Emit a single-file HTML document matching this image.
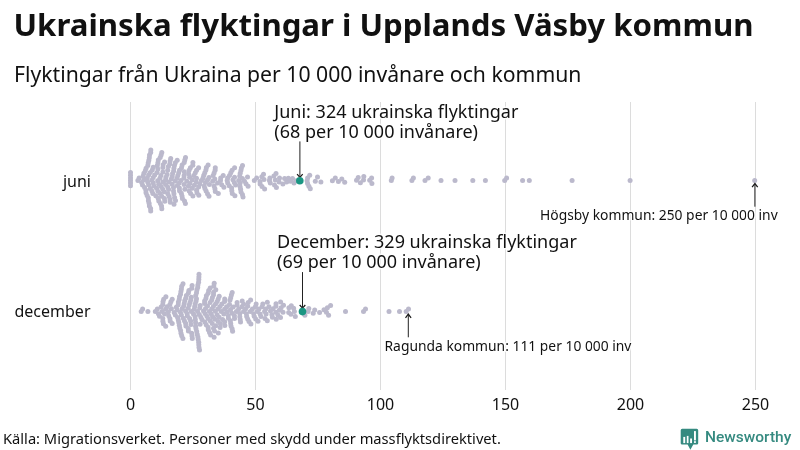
<!DOCTYPE html>
<html><head><meta charset="utf-8">
<style>
html,body{margin:0;padding:0;background:#fff;width:800px;height:450px;overflow:hidden}
svg{display:block;will-change:transform}
text{font-family:"Noto Sans","Liberation Sans",sans-serif;fill:#111}
.grid{stroke:#dcdcdc;stroke-width:1}
.tick{font-size:16px;text-anchor:middle}
.lab{font-size:16px;text-anchor:end}
.ann{font-size:18px}
.ann,.small{stroke:rgba(255,255,255,0.85);stroke-width:3px;paint-order:stroke fill;stroke-linejoin:round}
.small{font-size:13.85px}
.foot{font-size:14.667px}
.arr{stroke:#222;stroke-width:1;fill:none}
.ah{stroke:#1a1a1a;stroke-width:1.25;fill:none}
.d{fill:#bbb9cc}
</style></head><body>
<svg width="800" height="450" viewBox="0 0 800 450">
<text x="13.5" y="36.3" style="font-size:31.2px;font-weight:700" textLength="739.94">Ukrainska flyktingar i Upplands Väsby kommun</text>
<text x="14" y="81.5" style="font-size:21.2px" textLength="567.41">Flyktingar från Ukraina per 10 000 invånare och kommun</text>
<g class="grid">
<line x1="130.5" y1="102" x2="130.5" y2="390"/>
<line x1="255.5" y1="102" x2="255.5" y2="390"/>
<line x1="380.5" y1="102" x2="380.5" y2="390"/>
<line x1="505.5" y1="102" x2="505.5" y2="390"/>
<line x1="630.5" y1="102" x2="630.5" y2="390"/>
<line x1="755.5" y1="102" x2="755.5" y2="390"/>
</g>
<g class="tick">
<text x="130.5" y="409.6">0</text>
<text x="255.5" y="409.6">50</text>
<text x="380.5" y="409.6">100</text>
<text x="505.5" y="409.6">150</text>
<text x="630.5" y="409.6">200</text>
<text x="755.5" y="409.6">250</text>
</g>
<text class="lab" x="91" y="186.8" textLength="28.05">juni</text>
<text class="lab" x="90.5" y="316.9" textLength="76.02">december</text>
<g class="d">
<circle cx="130.5" cy="180.5" r="2.5"/>
<circle cx="130.5" cy="177.9" r="2.5"/>
<circle cx="130.5" cy="183.1" r="2.5"/>
<circle cx="130.5" cy="175.2" r="2.5"/>
<circle cx="130.5" cy="185.8" r="2.5"/>
<circle cx="130.5" cy="172.6" r="2.5"/>
<circle cx="137.9" cy="180.5" r="2.5"/>
<circle cx="139.1" cy="177.9" r="2.5"/>
<circle cx="141.7" cy="182.5" r="2.5"/>
<circle cx="142.5" cy="185.1" r="2.5"/>
<circle cx="143.1" cy="176.0" r="2.5"/>
<circle cx="143.8" cy="180.1" r="2.5"/>
<circle cx="143.9" cy="173.3" r="2.5"/>
<circle cx="144.6" cy="187.6" r="2.5"/>
<circle cx="145.3" cy="170.8" r="2.5"/>
<circle cx="145.9" cy="190.2" r="2.5"/>
<circle cx="146.0" cy="192.8" r="2.5"/>
<circle cx="146.1" cy="168.2" r="2.5"/>
<circle cx="147.1" cy="195.4" r="2.5"/>
<circle cx="147.3" cy="177.9" r="2.5"/>
<circle cx="147.7" cy="182.1" r="2.5"/>
<circle cx="147.8" cy="165.6" r="2.5"/>
<circle cx="148.2" cy="163.0" r="2.5"/>
<circle cx="148.3" cy="198.0" r="2.5"/>
<circle cx="148.4" cy="200.7" r="2.5"/>
<circle cx="148.6" cy="184.7" r="2.5"/>
<circle cx="148.6" cy="175.0" r="2.5"/>
<circle cx="148.8" cy="160.4" r="2.5"/>
<circle cx="149.1" cy="203.3" r="2.5"/>
<circle cx="149.3" cy="157.7" r="2.5"/>
<circle cx="149.4" cy="205.9" r="2.5"/>
<circle cx="149.5" cy="155.1" r="2.5"/>
<circle cx="150.3" cy="172.4" r="2.5"/>
<circle cx="150.3" cy="188.4" r="2.5"/>
<circle cx="150.6" cy="208.5" r="2.5"/>
<circle cx="150.7" cy="152.5" r="2.5"/>
<circle cx="150.7" cy="211.1" r="2.5"/>
<circle cx="150.8" cy="149.9" r="2.5"/>
<circle cx="151.8" cy="180.2" r="2.5"/>
<circle cx="151.9" cy="190.9" r="2.5"/>
<circle cx="152.3" cy="169.9" r="2.5"/>
<circle cx="152.8" cy="193.6" r="2.5"/>
<circle cx="153.2" cy="177.6" r="2.5"/>
<circle cx="153.2" cy="167.3" r="2.5"/>
<circle cx="153.3" cy="183.0" r="2.5"/>
<circle cx="153.8" cy="186.0" r="2.5"/>
<circle cx="154.7" cy="175.0" r="2.5"/>
<circle cx="155.8" cy="195.8" r="2.5"/>
<circle cx="156.6" cy="188.3" r="2.5"/>
<circle cx="157.1" cy="172.6" r="2.5"/>
<circle cx="157.3" cy="165.4" r="2.5"/>
<circle cx="157.7" cy="180.7" r="2.5"/>
<circle cx="157.9" cy="191.2" r="2.5"/>
<circle cx="157.9" cy="162.8" r="2.5"/>
<circle cx="157.9" cy="169.0" r="2.5"/>
<circle cx="158.2" cy="198.3" r="2.5"/>
<circle cx="158.3" cy="160.1" r="2.5"/>
<circle cx="158.7" cy="184.2" r="2.5"/>
<circle cx="158.8" cy="200.9" r="2.5"/>
<circle cx="159.9" cy="178.2" r="2.5"/>
<circle cx="160.2" cy="193.6" r="2.5"/>
<circle cx="160.2" cy="157.6" r="2.5"/>
<circle cx="160.4" cy="203.4" r="2.5"/>
<circle cx="160.9" cy="175.6" r="2.5"/>
<circle cx="161.1" cy="155.0" r="2.5"/>
<circle cx="161.1" cy="186.6" r="2.5"/>
<circle cx="161.5" cy="206.0" r="2.5"/>
<circle cx="161.8" cy="152.4" r="2.5"/>
<circle cx="161.8" cy="208.7" r="2.5"/>
<circle cx="161.8" cy="196.2" r="2.5"/>
<circle cx="162.6" cy="189.1" r="2.5"/>
<circle cx="162.8" cy="182.1" r="2.5"/>
<circle cx="162.9" cy="171.9" r="2.5"/>
<circle cx="162.9" cy="167.6" r="2.5"/>
<circle cx="163.1" cy="164.7" r="2.5"/>
<circle cx="164.3" cy="191.7" r="2.5"/>
<circle cx="164.4" cy="198.5" r="2.5"/>
<circle cx="164.6" cy="162.1" r="2.5"/>
<circle cx="164.8" cy="201.2" r="2.5"/>
<circle cx="165.6" cy="179.8" r="2.5"/>
<circle cx="165.6" cy="184.4" r="2.5"/>
<circle cx="165.9" cy="177.2" r="2.5"/>
<circle cx="167.1" cy="174.6" r="2.5"/>
<circle cx="167.7" cy="186.9" r="2.5"/>
<circle cx="167.7" cy="170.3" r="2.5"/>
<circle cx="167.8" cy="193.8" r="2.5"/>
<circle cx="168.4" cy="166.5" r="2.5"/>
<circle cx="168.6" cy="189.5" r="2.5"/>
<circle cx="169.0" cy="182.0" r="2.5"/>
<circle cx="169.1" cy="196.4" r="2.5"/>
<circle cx="169.8" cy="163.9" r="2.5"/>
<circle cx="170.0" cy="199.5" r="2.5"/>
<circle cx="170.1" cy="161.1" r="2.5"/>
<circle cx="170.3" cy="202.3" r="2.5"/>
<circle cx="170.7" cy="158.5" r="2.5"/>
<circle cx="171.3" cy="179.0" r="2.5"/>
<circle cx="172.2" cy="184.2" r="2.5"/>
<circle cx="172.2" cy="176.4" r="2.5"/>
<circle cx="172.6" cy="173.5" r="2.5"/>
<circle cx="173.5" cy="187.6" r="2.5"/>
<circle cx="173.5" cy="191.1" r="2.5"/>
<circle cx="173.6" cy="170.9" r="2.5"/>
<circle cx="173.9" cy="168.2" r="2.5"/>
<circle cx="173.9" cy="193.7" r="2.5"/>
<circle cx="174.0" cy="204.3" r="2.5"/>
<circle cx="174.4" cy="165.6" r="2.5"/>
<circle cx="174.6" cy="197.4" r="2.5"/>
<circle cx="175.2" cy="181.0" r="2.5"/>
<circle cx="175.3" cy="162.8" r="2.5"/>
<circle cx="175.5" cy="200.6" r="2.5"/>
<circle cx="177.0" cy="178.2" r="2.5"/>
<circle cx="177.2" cy="160.3" r="2.5"/>
<circle cx="177.4" cy="185.5" r="2.5"/>
<circle cx="177.8" cy="175.5" r="2.5"/>
<circle cx="178.7" cy="172.8" r="2.5"/>
<circle cx="179.2" cy="183.0" r="2.5"/>
<circle cx="179.4" cy="188.1" r="2.5"/>
<circle cx="179.5" cy="190.7" r="2.5"/>
<circle cx="179.5" cy="170.2" r="2.5"/>
<circle cx="181.0" cy="180.5" r="2.5"/>
<circle cx="181.3" cy="193.2" r="2.5"/>
<circle cx="181.5" cy="167.7" r="2.5"/>
<circle cx="182.0" cy="195.9" r="2.5"/>
<circle cx="182.1" cy="165.1" r="2.5"/>
<circle cx="182.4" cy="198.5" r="2.5"/>
<circle cx="183.9" cy="178.1" r="2.5"/>
<circle cx="184.1" cy="184.5" r="2.5"/>
<circle cx="184.1" cy="175.5" r="2.5"/>
<circle cx="184.2" cy="162.6" r="2.5"/>
<circle cx="184.3" cy="171.8" r="2.5"/>
<circle cx="184.5" cy="201.0" r="2.5"/>
<circle cx="184.8" cy="189.2" r="2.5"/>
<circle cx="184.8" cy="160.0" r="2.5"/>
<circle cx="185.4" cy="203.6" r="2.5"/>
<circle cx="185.5" cy="157.4" r="2.5"/>
<circle cx="186.8" cy="181.2" r="2.5"/>
<circle cx="188.4" cy="186.3" r="2.5"/>
<circle cx="188.6" cy="173.8" r="2.5"/>
<circle cx="189.1" cy="170.3" r="2.5"/>
<circle cx="189.2" cy="191.0" r="2.5"/>
<circle cx="189.6" cy="177.3" r="2.5"/>
<circle cx="189.9" cy="183.5" r="2.5"/>
<circle cx="190.4" cy="167.7" r="2.5"/>
<circle cx="190.6" cy="193.6" r="2.5"/>
<circle cx="192.2" cy="180.1" r="2.5"/>
<circle cx="192.3" cy="188.3" r="2.5"/>
<circle cx="192.8" cy="165.3" r="2.5"/>
<circle cx="192.9" cy="196.0" r="2.5"/>
<circle cx="192.9" cy="162.6" r="2.5"/>
<circle cx="193.8" cy="175.4" r="2.5"/>
<circle cx="194.4" cy="185.2" r="2.5"/>
<circle cx="195.3" cy="172.8" r="2.5"/>
<circle cx="196.3" cy="182.0" r="2.5"/>
<circle cx="196.5" cy="178.2" r="2.5"/>
<circle cx="196.6" cy="190.2" r="2.5"/>
<circle cx="196.6" cy="170.3" r="2.5"/>
<circle cx="197.0" cy="192.8" r="2.5"/>
<circle cx="198.6" cy="187.1" r="2.5"/>
<circle cx="198.6" cy="167.8" r="2.5"/>
<circle cx="198.8" cy="195.3" r="2.5"/>
<circle cx="199.9" cy="184.1" r="2.5"/>
<circle cx="201.4" cy="180.5" r="2.5"/>
<circle cx="203.0" cy="178.0" r="2.5"/>
<circle cx="203.8" cy="175.3" r="2.5"/>
<circle cx="204.2" cy="185.9" r="2.5"/>
<circle cx="204.8" cy="172.7" r="2.5"/>
<circle cx="204.9" cy="188.6" r="2.5"/>
<circle cx="205.4" cy="182.5" r="2.5"/>
<circle cx="205.9" cy="170.1" r="2.5"/>
<circle cx="206.1" cy="191.1" r="2.5"/>
<circle cx="206.4" cy="167.5" r="2.5"/>
<circle cx="207.5" cy="180.0" r="2.5"/>
<circle cx="207.5" cy="193.7" r="2.5"/>
<circle cx="208.1" cy="165.0" r="2.5"/>
<circle cx="209.0" cy="177.4" r="2.5"/>
<circle cx="209.0" cy="196.3" r="2.5"/>
<circle cx="209.4" cy="184.4" r="2.5"/>
<circle cx="212.7" cy="181.3" r="2.5"/>
<circle cx="213.1" cy="175.5" r="2.5"/>
<circle cx="214.1" cy="186.1" r="2.5"/>
<circle cx="214.1" cy="172.9" r="2.5"/>
<circle cx="214.8" cy="178.9" r="2.5"/>
<circle cx="214.9" cy="188.7" r="2.5"/>
<circle cx="215.1" cy="170.3" r="2.5"/>
<circle cx="215.3" cy="191.4" r="2.5"/>
<circle cx="215.3" cy="167.7" r="2.5"/>
<circle cx="217.5" cy="182.9" r="2.5"/>
<circle cx="218.3" cy="193.6" r="2.5"/>
<circle cx="220.5" cy="180.5" r="2.5"/>
<circle cx="220.7" cy="177.9" r="2.5"/>
<circle cx="221.7" cy="184.8" r="2.5"/>
<circle cx="223.2" cy="175.5" r="2.5"/>
<circle cx="223.9" cy="187.3" r="2.5"/>
<circle cx="227.2" cy="180.5" r="2.5"/>
<circle cx="227.6" cy="177.9" r="2.5"/>
<circle cx="227.7" cy="183.1" r="2.5"/>
<circle cx="229.2" cy="185.7" r="2.5"/>
<circle cx="229.5" cy="175.4" r="2.5"/>
<circle cx="230.8" cy="172.8" r="2.5"/>
<circle cx="231.6" cy="188.1" r="2.5"/>
<circle cx="231.8" cy="190.7" r="2.5"/>
<circle cx="232.1" cy="170.2" r="2.5"/>
<circle cx="232.3" cy="193.4" r="2.5"/>
<circle cx="232.9" cy="179.8" r="2.5"/>
<circle cx="234.3" cy="182.4" r="2.5"/>
<circle cx="234.5" cy="177.2" r="2.5"/>
<circle cx="234.6" cy="167.8" r="2.5"/>
<circle cx="234.9" cy="195.8" r="2.5"/>
<circle cx="235.6" cy="184.9" r="2.5"/>
<circle cx="238.7" cy="180.5" r="2.5"/>
<circle cx="239.7" cy="175.9" r="2.5"/>
<circle cx="240.1" cy="183.1" r="2.5"/>
<circle cx="240.1" cy="186.7" r="2.5"/>
<circle cx="240.2" cy="173.3" r="2.5"/>
<circle cx="240.6" cy="189.3" r="2.5"/>
<circle cx="240.9" cy="170.6" r="2.5"/>
<circle cx="241.0" cy="191.9" r="2.5"/>
<circle cx="241.4" cy="168.0" r="2.5"/>
<circle cx="242.4" cy="178.4" r="2.5"/>
<circle cx="242.4" cy="194.5" r="2.5"/>
<circle cx="242.5" cy="165.4" r="2.5"/>
<circle cx="243.0" cy="197.1" r="2.5"/>
<circle cx="244.5" cy="181.2" r="2.5"/>
<circle cx="246.0" cy="183.8" r="2.5"/>
<circle cx="247.5" cy="177.1" r="2.5"/>
<circle cx="248.1" cy="186.3" r="2.5"/>
<circle cx="254.3" cy="180.5" r="2.5"/>
<circle cx="256.6" cy="178.1" r="2.5"/>
<circle cx="260.0" cy="181.4" r="2.5"/>
<circle cx="260.1" cy="184.0" r="2.5"/>
<circle cx="261.8" cy="176.7" r="2.5"/>
<circle cx="262.0" cy="186.5" r="2.5"/>
<circle cx="263.5" cy="174.2" r="2.5"/>
<circle cx="264.0" cy="179.4" r="2.5"/>
<circle cx="264.6" cy="188.9" r="2.5"/>
<circle cx="269.4" cy="180.5" r="2.5"/>
<circle cx="269.9" cy="177.9" r="2.5"/>
<circle cx="270.3" cy="183.1" r="2.5"/>
<circle cx="273.9" cy="175.9" r="2.5"/>
<circle cx="274.5" cy="185.0" r="2.5"/>
<circle cx="275.3" cy="180.0" r="2.5"/>
<circle cx="276.0" cy="173.4" r="2.5"/>
<circle cx="276.4" cy="187.5" r="2.5"/>
<circle cx="279.1" cy="182.0" r="2.5"/>
<circle cx="279.5" cy="178.1" r="2.5"/>
<circle cx="282.9" cy="184.1" r="2.5"/>
<circle cx="284.6" cy="178.6" r="2.5"/>
<circle cx="286.6" cy="182.0" r="2.5"/>
<circle cx="288.4" cy="178.3" r="2.5"/>
<circle cx="290.4" cy="181.3" r="2.5"/>
<circle cx="292.5" cy="178.6" r="2.5"/>
<circle cx="294.0" cy="183.0" r="2.5"/>
<circle cx="296.3" cy="180.8" r="2.5"/>
<circle cx="299.8" cy="180.8" r="2.5"/>
<circle cx="309.7" cy="175.3" r="2.5"/>
<circle cx="307.6" cy="178.0" r="2.5"/>
<circle cx="307.1" cy="180.7" r="2.5"/>
<circle cx="307.6" cy="183.6" r="2.5"/>
<circle cx="308.9" cy="186.3" r="2.5"/>
<circle cx="310.3" cy="188.7" r="2.5"/>
<circle cx="315.3" cy="181.2" r="2.5"/>
<circle cx="317.5" cy="176.9" r="2.5"/>
<circle cx="320.9" cy="182.0" r="2.5"/>
<circle cx="332.4" cy="180.7" r="2.5"/>
<circle cx="335.3" cy="178.0" r="2.5"/>
<circle cx="338.4" cy="181.6" r="2.5"/>
<circle cx="341.8" cy="178.9" r="2.5"/>
<circle cx="344.7" cy="182.2" r="2.5"/>
<circle cx="356.5" cy="180.2" r="2.5"/>
<circle cx="358.2" cy="177.6" r="2.5"/>
<circle cx="360.4" cy="182.7" r="2.5"/>
<circle cx="363.8" cy="176.6" r="2.5"/>
<circle cx="363.5" cy="180.0" r="2.5"/>
<circle cx="369.7" cy="180.3" r="2.5"/>
<circle cx="371.6" cy="177.9" r="2.5"/>
<circle cx="371.9" cy="183.5" r="2.5"/>
<circle cx="391.3" cy="180.5" r="2.5"/>
<circle cx="392.1" cy="178.1" r="2.5"/>
<circle cx="411.9" cy="180.4" r="2.5"/>
<circle cx="413.4" cy="178.1" r="2.5"/>
<circle cx="425.0" cy="180.4" r="2.5"/>
<circle cx="428.2" cy="178.1" r="2.5"/>
<circle cx="441.0" cy="180.4" r="2.5"/>
<circle cx="455.0" cy="180.4" r="2.5"/>
<circle cx="472.8" cy="180.4" r="2.5"/>
<circle cx="485.4" cy="180.4" r="2.5"/>
<circle cx="504.7" cy="180.4" r="2.5"/>
<circle cx="506.6" cy="178.1" r="2.5"/>
<circle cx="522.6" cy="180.5" r="2.5"/>
<circle cx="529.3" cy="180.5" r="2.5"/>
<circle cx="572.1" cy="180.5" r="2.5"/>
<circle cx="630.1" cy="180.5" r="2.5"/>
<circle cx="754.7" cy="180.5" r="2.5"/>
<circle cx="141.2" cy="311.5" r="2.5"/>
<circle cx="142.6" cy="308.9" r="2.5"/>
<circle cx="147.9" cy="311.5" r="2.5"/>
<circle cx="155.3" cy="311.5" r="2.5"/>
<circle cx="157.3" cy="309.0" r="2.5"/>
<circle cx="158.4" cy="313.7" r="2.5"/>
<circle cx="159.5" cy="316.3" r="2.5"/>
<circle cx="161.1" cy="307.0" r="2.5"/>
<circle cx="162.1" cy="311.5" r="2.5"/>
<circle cx="162.8" cy="318.5" r="2.5"/>
<circle cx="162.8" cy="304.4" r="2.5"/>
<circle cx="162.9" cy="321.2" r="2.5"/>
<circle cx="163.0" cy="301.8" r="2.5"/>
<circle cx="163.4" cy="323.8" r="2.5"/>
<circle cx="163.7" cy="299.2" r="2.5"/>
<circle cx="164.5" cy="313.9" r="2.5"/>
<circle cx="165.6" cy="309.3" r="2.5"/>
<circle cx="165.7" cy="326.3" r="2.5"/>
<circle cx="165.9" cy="296.7" r="2.5"/>
<circle cx="167.1" cy="306.8" r="2.5"/>
<circle cx="168.4" cy="311.7" r="2.5"/>
<circle cx="168.7" cy="315.8" r="2.5"/>
<circle cx="169.9" cy="318.4" r="2.5"/>
<circle cx="169.9" cy="304.4" r="2.5"/>
<circle cx="170.2" cy="321.0" r="2.5"/>
<circle cx="170.9" cy="301.8" r="2.5"/>
<circle cx="171.4" cy="308.7" r="2.5"/>
<circle cx="172.2" cy="323.5" r="2.5"/>
<circle cx="172.2" cy="299.3" r="2.5"/>
<circle cx="174.2" cy="312.4" r="2.5"/>
<circle cx="175.3" cy="315.0" r="2.5"/>
<circle cx="176.3" cy="307.2" r="2.5"/>
<circle cx="177.2" cy="310.1" r="2.5"/>
<circle cx="177.6" cy="317.4" r="2.5"/>
<circle cx="178.2" cy="304.7" r="2.5"/>
<circle cx="178.3" cy="320.0" r="2.5"/>
<circle cx="178.4" cy="302.0" r="2.5"/>
<circle cx="178.8" cy="322.6" r="2.5"/>
<circle cx="179.2" cy="299.4" r="2.5"/>
<circle cx="179.3" cy="325.3" r="2.5"/>
<circle cx="179.5" cy="296.8" r="2.5"/>
<circle cx="179.8" cy="327.9" r="2.5"/>
<circle cx="180.4" cy="312.3" r="2.5"/>
<circle cx="180.5" cy="294.2" r="2.5"/>
<circle cx="180.6" cy="330.5" r="2.5"/>
<circle cx="180.9" cy="291.5" r="2.5"/>
<circle cx="181.0" cy="333.2" r="2.5"/>
<circle cx="181.4" cy="314.9" r="2.5"/>
<circle cx="181.4" cy="288.9" r="2.5"/>
<circle cx="181.7" cy="335.8" r="2.5"/>
<circle cx="181.7" cy="286.3" r="2.5"/>
<circle cx="182.2" cy="308.6" r="2.5"/>
<circle cx="182.9" cy="338.4" r="2.5"/>
<circle cx="183.0" cy="283.7" r="2.5"/>
<circle cx="183.3" cy="318.2" r="2.5"/>
<circle cx="183.7" cy="306.1" r="2.5"/>
<circle cx="184.2" cy="303.4" r="2.5"/>
<circle cx="184.4" cy="320.8" r="2.5"/>
<circle cx="184.7" cy="300.8" r="2.5"/>
<circle cx="185.5" cy="310.9" r="2.5"/>
<circle cx="185.6" cy="323.3" r="2.5"/>
<circle cx="185.7" cy="298.2" r="2.5"/>
<circle cx="185.9" cy="326.0" r="2.5"/>
<circle cx="186.4" cy="295.6" r="2.5"/>
<circle cx="187.1" cy="313.4" r="2.5"/>
<circle cx="187.4" cy="316.1" r="2.5"/>
<circle cx="188.2" cy="308.2" r="2.5"/>
<circle cx="188.2" cy="328.4" r="2.5"/>
<circle cx="188.4" cy="293.1" r="2.5"/>
<circle cx="188.4" cy="331.1" r="2.5"/>
<circle cx="188.9" cy="290.5" r="2.5"/>
<circle cx="189.2" cy="305.0" r="2.5"/>
<circle cx="189.6" cy="318.5" r="2.5"/>
<circle cx="190.0" cy="302.4" r="2.5"/>
<circle cx="190.6" cy="321.1" r="2.5"/>
<circle cx="190.8" cy="299.8" r="2.5"/>
<circle cx="191.0" cy="324.5" r="2.5"/>
<circle cx="191.3" cy="297.2" r="2.5"/>
<circle cx="191.4" cy="311.5" r="2.5"/>
<circle cx="191.7" cy="333.3" r="2.5"/>
<circle cx="191.8" cy="288.2" r="2.5"/>
<circle cx="192.0" cy="335.9" r="2.5"/>
<circle cx="192.1" cy="285.5" r="2.5"/>
<circle cx="192.3" cy="338.5" r="2.5"/>
<circle cx="193.5" cy="314.0" r="2.5"/>
<circle cx="194.2" cy="309.2" r="2.5"/>
<circle cx="194.7" cy="306.5" r="2.5"/>
<circle cx="195.1" cy="316.5" r="2.5"/>
<circle cx="195.2" cy="303.9" r="2.5"/>
<circle cx="195.3" cy="319.4" r="2.5"/>
<circle cx="195.6" cy="322.6" r="2.5"/>
<circle cx="195.6" cy="326.2" r="2.5"/>
<circle cx="195.7" cy="295.4" r="2.5"/>
<circle cx="196.0" cy="301.3" r="2.5"/>
<circle cx="196.0" cy="328.8" r="2.5"/>
<circle cx="196.5" cy="298.7" r="2.5"/>
<circle cx="196.5" cy="292.7" r="2.5"/>
<circle cx="196.7" cy="331.4" r="2.5"/>
<circle cx="196.9" cy="290.1" r="2.5"/>
<circle cx="197.2" cy="334.3" r="2.5"/>
<circle cx="197.6" cy="311.5" r="2.5"/>
<circle cx="197.7" cy="287.5" r="2.5"/>
<circle cx="197.9" cy="336.9" r="2.5"/>
<circle cx="197.9" cy="284.9" r="2.5"/>
<circle cx="198.2" cy="339.6" r="2.5"/>
<circle cx="198.6" cy="282.2" r="2.5"/>
<circle cx="198.7" cy="342.2" r="2.5"/>
<circle cx="198.8" cy="279.6" r="2.5"/>
<circle cx="198.8" cy="344.8" r="2.5"/>
<circle cx="198.9" cy="277.0" r="2.5"/>
<circle cx="199.0" cy="347.5" r="2.5"/>
<circle cx="199.0" cy="274.3" r="2.5"/>
<circle cx="199.3" cy="314.5" r="2.5"/>
<circle cx="199.5" cy="350.1" r="2.5"/>
<circle cx="199.7" cy="308.1" r="2.5"/>
<circle cx="200.1" cy="324.3" r="2.5"/>
<circle cx="200.2" cy="305.4" r="2.5"/>
<circle cx="200.9" cy="317.2" r="2.5"/>
<circle cx="202.1" cy="319.8" r="2.5"/>
<circle cx="203.5" cy="311.0" r="2.5"/>
<circle cx="204.6" cy="303.6" r="2.5"/>
<circle cx="204.6" cy="301.0" r="2.5"/>
<circle cx="204.9" cy="322.1" r="2.5"/>
<circle cx="205.0" cy="313.5" r="2.5"/>
<circle cx="205.6" cy="308.5" r="2.5"/>
<circle cx="205.9" cy="298.4" r="2.5"/>
<circle cx="206.2" cy="324.7" r="2.5"/>
<circle cx="206.4" cy="295.8" r="2.5"/>
<circle cx="206.8" cy="316.0" r="2.5"/>
<circle cx="207.5" cy="306.0" r="2.5"/>
<circle cx="208.1" cy="318.6" r="2.5"/>
<circle cx="208.1" cy="327.2" r="2.5"/>
<circle cx="208.1" cy="293.3" r="2.5"/>
<circle cx="208.3" cy="329.8" r="2.5"/>
<circle cx="208.7" cy="290.6" r="2.5"/>
<circle cx="209.4" cy="311.5" r="2.5"/>
<circle cx="209.5" cy="332.4" r="2.5"/>
<circle cx="210.1" cy="302.6" r="2.5"/>
<circle cx="210.2" cy="288.1" r="2.5"/>
<circle cx="210.4" cy="321.1" r="2.5"/>
<circle cx="210.6" cy="335.0" r="2.5"/>
<circle cx="211.3" cy="314.0" r="2.5"/>
<circle cx="211.7" cy="309.1" r="2.5"/>
<circle cx="211.7" cy="300.1" r="2.5"/>
<circle cx="212.2" cy="323.6" r="2.5"/>
<circle cx="212.4" cy="297.4" r="2.5"/>
<circle cx="212.6" cy="316.7" r="2.5"/>
<circle cx="213.4" cy="306.6" r="2.5"/>
<circle cx="213.5" cy="294.8" r="2.5"/>
<circle cx="213.5" cy="328.3" r="2.5"/>
<circle cx="213.6" cy="292.2" r="2.5"/>
<circle cx="213.8" cy="286.0" r="2.5"/>
<circle cx="214.1" cy="337.2" r="2.5"/>
<circle cx="214.2" cy="283.3" r="2.5"/>
<circle cx="214.5" cy="330.9" r="2.5"/>
<circle cx="214.9" cy="319.2" r="2.5"/>
<circle cx="215.3" cy="311.3" r="2.5"/>
<circle cx="215.5" cy="304.1" r="2.5"/>
<circle cx="215.8" cy="325.7" r="2.5"/>
<circle cx="215.8" cy="289.7" r="2.5"/>
<circle cx="217.1" cy="314.7" r="2.5"/>
<circle cx="217.2" cy="301.5" r="2.5"/>
<circle cx="218.0" cy="308.9" r="2.5"/>
<circle cx="218.1" cy="321.4" r="2.5"/>
<circle cx="218.2" cy="298.9" r="2.5"/>
<circle cx="218.3" cy="332.9" r="2.5"/>
<circle cx="219.1" cy="317.2" r="2.5"/>
<circle cx="219.2" cy="296.3" r="2.5"/>
<circle cx="220.0" cy="306.4" r="2.5"/>
<circle cx="220.1" cy="327.5" r="2.5"/>
<circle cx="220.4" cy="323.8" r="2.5"/>
<circle cx="221.3" cy="311.5" r="2.5"/>
<circle cx="221.9" cy="303.9" r="2.5"/>
<circle cx="222.6" cy="319.4" r="2.5"/>
<circle cx="223.8" cy="314.0" r="2.5"/>
<circle cx="224.6" cy="309.3" r="2.5"/>
<circle cx="224.6" cy="301.6" r="2.5"/>
<circle cx="224.7" cy="321.8" r="2.5"/>
<circle cx="224.7" cy="298.9" r="2.5"/>
<circle cx="224.8" cy="325.6" r="2.5"/>
<circle cx="226.6" cy="306.8" r="2.5"/>
<circle cx="227.4" cy="311.7" r="2.5"/>
<circle cx="228.3" cy="315.7" r="2.5"/>
<circle cx="228.4" cy="318.3" r="2.5"/>
<circle cx="229.5" cy="304.5" r="2.5"/>
<circle cx="229.9" cy="300.3" r="2.5"/>
<circle cx="230.4" cy="320.8" r="2.5"/>
<circle cx="230.6" cy="309.4" r="2.5"/>
<circle cx="230.7" cy="323.5" r="2.5"/>
<circle cx="230.7" cy="297.7" r="2.5"/>
<circle cx="231.0" cy="326.1" r="2.5"/>
<circle cx="231.4" cy="295.0" r="2.5"/>
<circle cx="232.1" cy="313.3" r="2.5"/>
<circle cx="232.1" cy="328.7" r="2.5"/>
<circle cx="232.2" cy="292.4" r="2.5"/>
<circle cx="232.6" cy="331.3" r="2.5"/>
<circle cx="233.2" cy="307.0" r="2.5"/>
<circle cx="234.4" cy="315.7" r="2.5"/>
<circle cx="234.5" cy="318.4" r="2.5"/>
<circle cx="236.4" cy="311.4" r="2.5"/>
<circle cx="237.0" cy="305.0" r="2.5"/>
<circle cx="237.1" cy="302.4" r="2.5"/>
<circle cx="238.6" cy="309.0" r="2.5"/>
<circle cx="239.8" cy="313.6" r="2.5"/>
<circle cx="239.8" cy="316.8" r="2.5"/>
<circle cx="240.2" cy="319.5" r="2.5"/>
<circle cx="240.5" cy="322.1" r="2.5"/>
<circle cx="241.8" cy="306.8" r="2.5"/>
<circle cx="242.2" cy="301.0" r="2.5"/>
<circle cx="243.6" cy="311.5" r="2.5"/>
<circle cx="243.6" cy="304.2" r="2.5"/>
<circle cx="245.5" cy="309.0" r="2.5"/>
<circle cx="246.4" cy="313.8" r="2.5"/>
<circle cx="246.7" cy="316.5" r="2.5"/>
<circle cx="247.7" cy="319.1" r="2.5"/>
<circle cx="247.7" cy="306.3" r="2.5"/>
<circle cx="248.2" cy="302.5" r="2.5"/>
<circle cx="249.0" cy="321.6" r="2.5"/>
<circle cx="250.3" cy="311.5" r="2.5"/>
<circle cx="250.6" cy="300.1" r="2.5"/>
<circle cx="250.9" cy="324.1" r="2.5"/>
<circle cx="252.4" cy="309.0" r="2.5"/>
<circle cx="253.7" cy="313.7" r="2.5"/>
<circle cx="254.2" cy="316.3" r="2.5"/>
<circle cx="255.4" cy="306.7" r="2.5"/>
<circle cx="255.7" cy="318.9" r="2.5"/>
<circle cx="256.1" cy="304.1" r="2.5"/>
<circle cx="257.4" cy="311.5" r="2.5"/>
<circle cx="258.0" cy="321.3" r="2.5"/>
<circle cx="258.9" cy="308.9" r="2.5"/>
<circle cx="260.1" cy="313.9" r="2.5"/>
<circle cx="260.9" cy="316.5" r="2.5"/>
<circle cx="262.1" cy="306.7" r="2.5"/>
<circle cx="262.8" cy="304.1" r="2.5"/>
<circle cx="264.6" cy="311.5" r="2.5"/>
<circle cx="265.0" cy="318.4" r="2.5"/>
<circle cx="265.7" cy="308.9" r="2.5"/>
<circle cx="266.1" cy="314.1" r="2.5"/>
<circle cx="267.3" cy="302.3" r="2.5"/>
<circle cx="267.3" cy="320.8" r="2.5"/>
<circle cx="268.9" cy="306.7" r="2.5"/>
<circle cx="270.5" cy="311.0" r="2.5"/>
<circle cx="271.9" cy="314.7" r="2.5"/>
<circle cx="272.4" cy="317.3" r="2.5"/>
<circle cx="273.1" cy="308.7" r="2.5"/>
<circle cx="275.8" cy="312.3" r="2.5"/>
<circle cx="275.9" cy="306.3" r="2.5"/>
<circle cx="276.0" cy="303.7" r="2.5"/>
<circle cx="276.2" cy="319.3" r="2.5"/>
<circle cx="277.9" cy="315.0" r="2.5"/>
<circle cx="279.3" cy="310.2" r="2.5"/>
<circle cx="280.5" cy="317.4" r="2.5"/>
<circle cx="280.6" cy="302.0" r="2.5"/>
<circle cx="281.1" cy="307.7" r="2.5"/>
<circle cx="283.0" cy="312.3" r="2.5"/>
<circle cx="283.5" cy="305.3" r="2.5"/>
<circle cx="288.9" cy="307.8" r="2.5"/>
<circle cx="291.3" cy="305.8" r="2.5"/>
<circle cx="293.6" cy="308.2" r="2.5"/>
<circle cx="288.7" cy="312.4" r="2.5"/>
<circle cx="290.9" cy="314.2" r="2.5"/>
<circle cx="294.4" cy="311.6" r="2.5"/>
<circle cx="295.3" cy="316.6" r="2.5"/>
<circle cx="302.5" cy="311.6" r="2.5"/>
<circle cx="304.9" cy="315.2" r="2.5"/>
<circle cx="308.8" cy="308.6" r="2.5"/>
<circle cx="308.1" cy="311.5" r="2.5"/>
<circle cx="313.2" cy="313.2" r="2.5"/>
<circle cx="314.7" cy="310.0" r="2.5"/>
<circle cx="319.6" cy="312.5" r="2.5"/>
<circle cx="324.0" cy="309.8" r="2.5"/>
<circle cx="326.4" cy="312.2" r="2.5"/>
<circle cx="327.4" cy="307.8" r="2.5"/>
<circle cx="330.6" cy="305.4" r="2.5"/>
<circle cx="328.6" cy="315.2" r="2.5"/>
<circle cx="345.5" cy="311.5" r="2.5"/>
<circle cx="363.5" cy="311.5" r="2.5"/>
<circle cx="365.5" cy="309.0" r="2.5"/>
<circle cx="389.0" cy="311.5" r="2.5"/>
<circle cx="399.5" cy="311.5" r="2.5"/>
<circle cx="406.2" cy="311.5" r="2.5"/>
<circle cx="408.5" cy="308.9" r="2.5"/>
</g>
<path class="arr" d="M299.9 141.4V176.5"/>
<path class="arr" d="M302.5 272.1V307.3"/>
<path class="arr" d="M754.9 206.7V184.2"/>
<path class="arr" d="M408.3 337.3V315"/>
<path class="ah" d="M297.1 174.2L299.9 177.3L302.7 174.2"/>
<path class="ah" d="M299.7 305L302.5 308.1L305.3 305"/>
<path class="ah" d="M752.1 187.2L754.9 183.5L757.7 187.2"/>
<path class="ah" d="M405.5 317.8L408.3 314.1L411.1 317.8"/>
<circle cx="299.8" cy="180.8" r="3.8" fill="#1b9683"/>
<circle cx="302.5" cy="311.6" r="3.8" fill="#1b9683"/>
<text class="ann" x="274.3" y="118" textLength="244.06">Juni: 324 ukrainska flyktingar</text>
<text class="ann" x="274.3" y="138" textLength="203.72">(68 per 10 000 invånare)</text>
<text class="ann" x="277" y="248.1" textLength="299.83">December: 329 ukrainska flyktingar</text>
<text class="ann" x="277" y="268.1" textLength="203.72">(69 per 10 000 invånare)</text>
<text class="small" x="540" y="219.9" textLength="237.7">Högsby kommun: 250 per 10 000 inv</text>
<text class="small" x="384.5" y="351" textLength="246.91">Ragunda kommun: 111 per 10 000 inv</text>
<text class="foot" x="3" y="444.1" style="font-size:14.68px" textLength="497.84">Källa: Migrationsverket. Personer med skydd under massflyktsdirektivet.</text>
<g fill="#358a80">
<path d="M682.2 428.8H696.7Q698.2 428.8 698.2 430.3V443.2Q698.2 444.6 696.8 444.6H693.3L690.4 449.7L687.6 444.6H682.1Q680.7 444.6 680.7 443.2V430.3Q680.7 428.8 682.2 428.8Z"/>
</g>
<g fill="#fff">
<rect x="683.3" y="436.9" width="1.9" height="6.2"/>
<rect x="686.8" y="435.9" width="1.7" height="7.2"/>
<rect x="690.1" y="438.5" width="1.9" height="4.6"/>
<rect x="694" y="431.1" width="1.9" height="9.3"/>
<rect x="694" y="441.2" width="1.9" height="1.7"/>
</g>
<text x="705" y="442.2" style="font-family:Roboto,'Liberation Sans',sans-serif;font-weight:500;font-size:15.5px;fill:#358a80" textLength="86.31">Newsworthy</text>
</svg>
</body></html>
